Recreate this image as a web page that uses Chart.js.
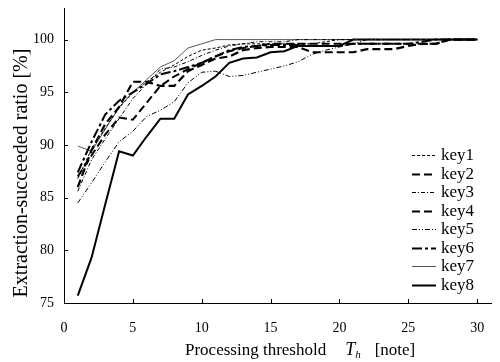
<!DOCTYPE html>
<html>
<head>
<meta charset="utf-8">
<script src="https://cdn.jsdelivr.net/npm/chart.js@4.4.0/dist/chart.umd.min.js"></script>
<style>
html,body{margin:0;padding:0;background:#fff;}
#wrap{width:500px;height:362px;position:relative;}
</style>
</head>
<body>
<div id="wrap"><canvas id="c" width="500" height="362"></canvas></div>
<script>
const thresholds = [1,2,3,4,5,6,7,8,9,10,11,12,13,14,15,16,17,18,19,20,21,22,23,24,25,26,27,28,29,30];
const key1 = [86.8,89.6,91.6,93.5,95.0,96.0,96.9,97.6,98.4,99.0,99.2,99.5,99.6,99.6,99.6,99.6,99.6,99.6,99.8,100,100,100,100,100,100,100,100,100,100,100];
const key2 = [87.0,89.0,91.0,92.6,92.4,94.0,95.6,96.5,97.2,97.8,98.4,98.9,99.2,99.4,99.6,99.6,99.6,99.6,99.6,99.6,99.6,99.6,99.6,99.6,99.6,99.6,99.6,100,100,100];
const key3 = [85.6,88.6,90.6,92.5,94.4,95.8,97.2,97.4,97.9,98.5,99.0,99.4,99.6,99.8,99.8,99.8,100,100,100,100,100,100,100,100,100,100,100,100,100,100];
const key4 = [86.0,89.5,92.0,93.6,96.0,96.0,95.6,95.6,97.0,97.6,98.2,98.4,99.0,99.2,99.3,99.3,99.3,98.8,98.8,98.8,98.8,99.1,99.1,99.1,99.4,99.6,99.6,100,100,100];
const key5 = [84.5,86.4,88.4,90.3,91.3,92.7,93.3,94.1,95.9,96.9,97.0,96.5,96.6,96.9,97.2,97.5,97.9,98.6,99.0,99.3,99.6,100,100,100,100,100,100,100,100,100];
const key6 = [87.4,90.3,92.9,94.2,95.0,95.8,96.7,97.0,97.4,97.8,98.4,99.0,99.3,99.4,99.5,99.5,99.5,99.4,99.4,99.4,99.6,99.6,99.6,99.6,99.6,99.8,100,100,100,100];
const key7 = [89.9,89.4,91.5,93.6,95.0,96.2,97.4,98.0,99.2,99.6,100,100,100,100,100,100,100,100,100,100,100,100,100,100,100,100,100,100,100,100];
const key8 = [75.7,79.3,84.4,89.4,89.0,90.8,92.5,92.5,94.8,95.6,96.5,97.8,98.2,98.3,98.8,98.9,99.4,99.4,99.4,99.4,100,100,100,100,100,100,100,100,100,100];
const seriesNames = ["key1","key2","key3","key4","key5","key6","key7","key8"];
const xTicks = [0,5,10,15,20,25,30];
const yTicks = [75,80,85,90,95,100];

const seriesValues = [key1,key2,key3,key4,key5,key6,key7,key8];
const styles = [
  {color:'#000', width:1,   dash:[3,2]},
  {color:'#000', width:2,   dash:[8,4]},
  {color:'#000', width:1,   dash:[4,2,1,2]},
  {color:'#000', width:2.2, dash:[8,4]},
  {color:'#000', width:1,   dash:[5,2,1,2,1,2]},
  {color:'#000', width:2,   dash:[10,3,3,3]},
  {color:'#555', width:1,   dash:[]},
  {color:'#000', width:2,   dash:[]}
];

const datasets = seriesNames.map((name,i)=>({
  label:name,
  data: thresholds.map((t,j)=>({x:t,y:seriesValues[i][j]})),
  borderColor: styles[i].color,
  borderWidth: styles[i].width,
  borderDash: styles[i].dash,
  pointRadius:0,
  tension:0,
  fill:false
}));

const FONT = "'Liberation Serif','DejaVu Serif',serif";

const decor = {
  id:'decor',
  afterDraw(chart){
    const ctx = chart.ctx;
    const xs = chart.scales.x, ys = chart.scales.y;
    const ca = chart.chartArea;
    ctx.save();
    ctx.strokeStyle = '#000';
    ctx.lineWidth = 1;
    ctx.setLineDash([]);
    xTicks.forEach(v=>{
      if (v===0) return;
      const px = Math.round(xs.getPixelForValue(v))+0.5;
      ctx.beginPath(); ctx.moveTo(px, ca.bottom); ctx.lineTo(px, ca.bottom-4); ctx.stroke();
    });
    yTicks.forEach(v=>{
      if (v===75) return;
      const py = Math.round(ys.getPixelForValue(v))+0.5;
      ctx.beginPath(); ctx.moveTo(ca.left, py); ctx.lineTo(ca.left+4, py); ctx.stroke();
    });
    // legend
    ctx.textBaseline = 'middle';
    ctx.textAlign = 'left';
    ctx.font = "17px " + FONT;
    chart.data.datasets.forEach((ds,i)=>{
      const y = 155 + i*18.5;
      ctx.strokeStyle = ds.borderColor;
      ctx.lineWidth = ds.borderWidth;
      ctx.setLineDash(ds.borderDash);
      ctx.beginPath(); ctx.moveTo(412, Math.round(y)+0.5); ctx.lineTo(436, Math.round(y)+0.5); ctx.stroke();
      ctx.fillStyle = '#000';
      ctx.fillText(ds.label, 441, y+1);
    });
    ctx.setLineDash([]);
    // y title
    ctx.save();
    ctx.translate(22, 173);
    ctx.rotate(-Math.PI/2);
    ctx.textAlign = 'center';
    ctx.font = "20px " + FONT;
    ctx.fillStyle = '#000';
    ctx.fillText("Extraction-succeeded ratio [%]", 0, 0);
    ctx.restore();
    // x title
    ctx.textAlign = 'left';
    ctx.textBaseline = 'alphabetic';
    ctx.fillStyle = '#000';
    const base = 355;
    let x = 185;
    ctx.font = "17px " + FONT;
    ctx.fillText("Processing threshold", x, base);
    x += ctx.measureText("Processing threshold").width + 19;
    ctx.font = "italic 18px " + FONT;
    ctx.fillText("T", x, base);
    x += ctx.measureText("T").width;
    ctx.font = "italic 11px " + FONT;
    ctx.fillText("h", x, base+3);
    x += ctx.measureText("h").width + 14;
    ctx.font = "17px " + FONT;
    ctx.fillText("[note]", x, base);
    ctx.restore();
  }
};

new Chart(document.getElementById('c'), {
  type:'line',
  data:{datasets},
  options:{
    responsive:false,
    animation:false,
    devicePixelRatio:1,
    layout:{padding:{top:8,right:9,left:0,bottom:0}},
    plugins:{legend:{display:false},tooltip:{enabled:false},title:{display:false}},
    scales:{
      x:{
        type:'linear', min:0, max:31,
        afterBuildTicks(s){ s.ticks = xTicks.map(v=>({value:v})); },
        afterFit(s){ s.height = 59; s.paddingLeft = 0; s.paddingRight = 0; },
        grid:{display:true, drawOnChartArea:false, drawTicks:false},
        border:{display:true,color:'#000',width:1},
        ticks:{color:'#000', padding:17, maxRotation:0, font:{family:FONT,size:14}}
      },
      y:{
        type:'linear', min:75, max:103,
        afterBuildTicks(s){ s.ticks = yTicks.map(v=>({value:v})); },
        afterFit(s){ s.width = 64; s.paddingTop = 0; s.paddingBottom = 0; },
        grid:{display:true, drawOnChartArea:false, drawTicks:false},
        border:{display:true,color:'#000',width:1},
        ticks:{color:'#000', padding:10, font:{family:FONT,size:14}}
      }
    }
  },
  plugins:[decor]
});
</script>
</body>
</html>
